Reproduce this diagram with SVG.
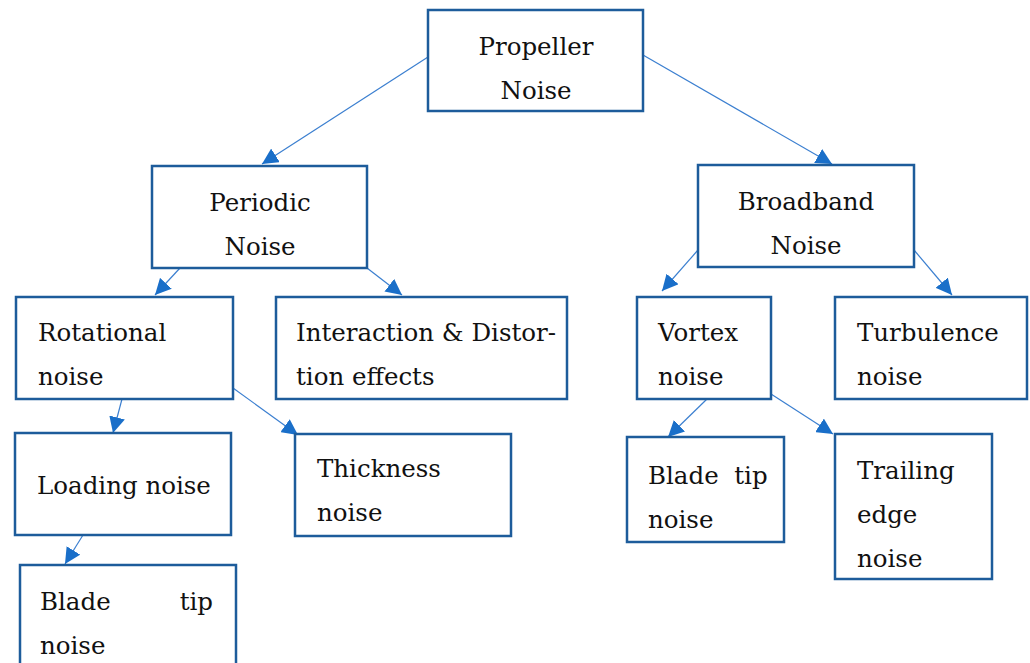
<svg xmlns="http://www.w3.org/2000/svg" width="1030" height="663" viewBox="0 0 1030 663">
<style>
.box{fill:#fff;stroke:#1d5c9b;stroke-width:2.5}
.t{font-family:"DejaVu Serif","Liberation Serif",serif;font-size:24.5px;fill:#111}
.c{text-anchor:middle}
.ln{stroke:#3b7fd0;stroke-width:1.2;fill:none;marker-end:url(#ah)}
</style>
<defs>
<marker id="ah" viewBox="0 0 10 10" refX="10" refY="5" markerWidth="16" markerHeight="16" markerUnits="userSpaceOnUse" orient="auto">
<path d="M0,0 L10,5 L0,10 Z" fill="#1a6fc9"/>
</marker>
</defs>
<rect width="1030" height="663" fill="#fff"/>
<g id="connectors">
<line class="ln" x1="428" y1="57" x2="262" y2="164"/>
<line class="ln" x1="643" y1="55" x2="832" y2="164"/>
<line class="ln" x1="180" y1="268" x2="155" y2="295"/>
<line class="ln" x1="367" y1="268" x2="402" y2="295"/>
<line class="ln" x1="698" y1="250" x2="662" y2="291"/>
<line class="ln" x1="914" y1="250" x2="952" y2="295"/>
<line class="ln" x1="122" y1="399" x2="113" y2="433"/>
<line class="ln" x1="233" y1="388" x2="298" y2="435"/>
<line class="ln" x1="83" y1="535" x2="65" y2="564"/>
<line class="ln" x1="707" y1="399" x2="668" y2="437"/>
<line class="ln" x1="771" y1="394" x2="833" y2="434"/>
</g>
<g id="propeller"><rect class="box" x="428" y="10" width="215" height="101"/><text class="t c" x="536" y="55">Propeller</text><text class="t c" x="536" y="99">Noise</text></g>
<g id="periodic"><rect class="box" x="152" y="166" width="215" height="102"/><text class="t c" x="260" y="211">Periodic</text><text class="t c" x="260" y="255">Noise</text></g>
<g id="broadband"><rect class="box" x="698" y="165" width="216" height="102"/><text class="t c" x="806" y="210">Broadband</text><text class="t c" x="806" y="254">Noise</text></g>
<g id="rotational"><rect class="box" x="16" y="297" width="217" height="102"/><text class="t" x="38" y="341">Rotational</text><text class="t" x="38" y="385">noise</text></g>
<g id="interaction"><rect class="box" x="276" y="297" width="291" height="102"/><text class="t" x="296" y="341">Interaction &amp; Distor-</text><text class="t" x="296" y="385">tion effects</text></g>
<g id="vortex"><rect class="box" x="637" y="297" width="134" height="102"/><text class="t" x="658" y="341">Vortex</text><text class="t" x="658" y="385">noise</text></g>
<g id="turbulence"><rect class="box" x="835" y="297" width="192" height="102"/><text class="t" x="857" y="341">Turbulence</text><text class="t" x="857" y="385">noise</text></g>
<g id="loading"><rect class="box" x="15" y="433" width="216" height="102"/><text class="t" x="37" y="494">Loading noise</text></g>
<g id="thickness"><rect class="box" x="295" y="434" width="216" height="102"/><text class="t" x="317" y="477">Thickness</text><text class="t" x="317" y="521">noise</text></g>
<g id="bladetip-left"><rect class="box" x="20" y="565" width="216" height="110"/><text class="t" x="40" y="610">Blade</text><text class="t" x="213" y="610" text-anchor="end">tip</text><text class="t" x="40" y="654">noise</text></g>
<g id="bladetip-right"><rect class="box" x="627" y="437" width="157" height="105"/><text class="t" x="648" y="484" xml:space="preserve">Blade  tip</text><text class="t" x="648" y="528">noise</text></g>
<g id="trailing"><rect class="box" x="835" y="434" width="157" height="145"/><text class="t" x="857" y="479">Trailing</text><text class="t" x="857" y="523">edge</text><text class="t" x="857" y="567">noise</text></g>
</svg>
